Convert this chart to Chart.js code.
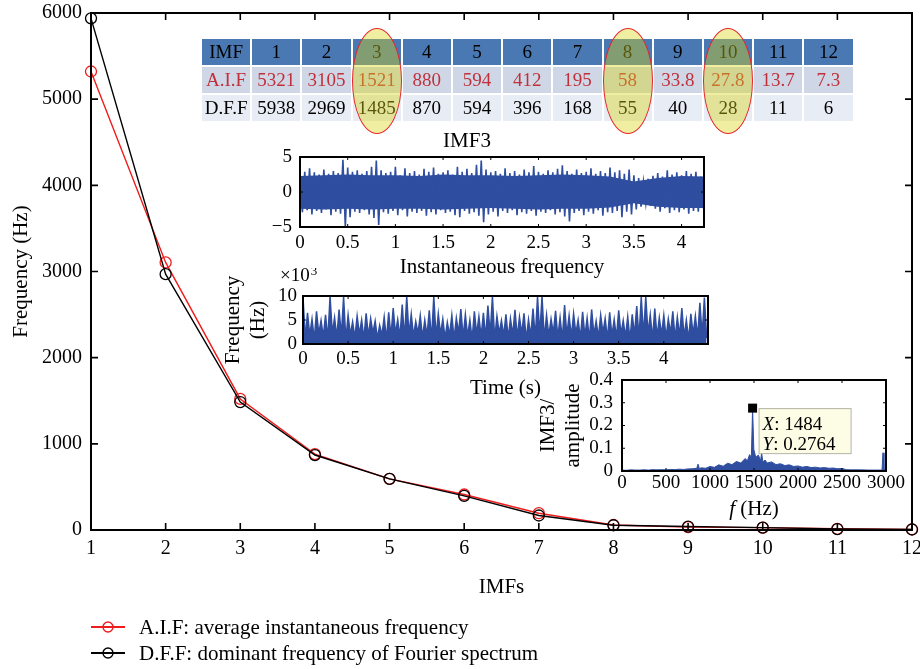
<!DOCTYPE html>
<html>
<head>
<meta charset="utf-8">
<script src="https://cdn.jsdelivr.net/npm/chart.js@4/dist/chart.umd.min.js"></script>
<style>
body{margin:0;background:#fff;}
#wrap{position:relative;width:920px;height:669px;overflow:hidden;font-family:"Liberation Serif","Times New Roman",serif;}
#wrap canvas{position:absolute;}
#tbl{position:absolute;left:200px;top:37px;border-collapse:separate;border-spacing:2px;table-layout:fixed;width:654.6px;font-size:19px;}
#tbl td{width:48.2px;height:26px;padding:0;line-height:26px;text-align:center;white-space:nowrap;}
#tbl tr.hdr td{background:#4a78b2;color:#000;}
#tbl tr.aif td{background:#cfd7e7;color:#c0303a;}
#tbl tr.dff td{background:#e8ecf4;color:#000;}
.ell{position:absolute;border:1.5px solid #e8242a;border-radius:50%;background:rgba(217,212,17,0.4);box-sizing:border-box;}
.leg{position:absolute;left:89px;height:26px;font-size:21px;line-height:26px;}
.leg svg{position:absolute;left:0;top:3px;}
.leg span{position:absolute;left:50px;top:0;white-space:nowrap;}
</style>
</head>
<body>
<div id="wrap">
  <canvas id="main" width="920" height="669" style="left:0;top:0"></canvas>
  <canvas id="imf3" width="490" height="152" style="left:230px;top:128px"></canvas>
  <canvas id="inst" width="505" height="133" style="left:215px;top:268px"></canvas>
  <canvas id="fft" width="380" height="160" style="left:530px;top:365px"></canvas>
  <table id="tbl"></table>
  <div id="legend"></div>
</div>
<script>
// main chart values
const imfIndex = [1, 2, 3, 4, 5, 6, 7, 8, 9, 10, 11, 12];
const aifValues = [5321, 3105, 1521, 880, 594, 412, 195, 58, 33.8, 27.8, 13.7, 7.3];
const dffValues = [5938, 2969, 1485, 870, 594, 396, 168, 55, 40, 28, 11, 6];
const highlighted = [3, 8, 10];
const legendNames = ["A.I.F: average instantaneous frequency", "D.F.F: dominant frequency of Fourier spectrum"];

// IMF3 signal envelope, sampled every 0.05 s
const imf3Step = 0.05;
const imf3Upper = [2.6, 2.9, 3.4, 2.8, 2.5, 3.2, 2.6, 3.0, 2.7, 4.6, 3.5, 2.9, 3.1, 2.6, 3.0, 3.6, 4.5, 3.1, 2.7, 2.9,
  3.6, 2.4, 3.4, 2.7, 3.0, 2.5, 3.3, 2.9, 3.5, 2.6, 2.8, 3.1, 2.5, 3.6, 2.9, 3.3, 2.7, 3.9, 4.5, 3.2,
  2.8, 3.0, 2.6, 3.4, 2.7, 3.0, 2.5, 3.2, 2.8, 3.7, 2.9, 2.6, 3.1, 2.8, 3.3, 3.8, 3.0, 2.6, 3.2, 2.7,
  2.9, 3.4, 2.6, 3.0, 2.7, 3.5, 2.8, 3.1, 2.6, 3.2, 2.4, 2.0, 1.5, 1.9, 2.3, 2.7, 2.2, 3.1, 2.5, 2.8,
  2.4, 3.0, 2.6, 2.9, 2.2];
const imf3Lower = [-2.9, -2.6, -3.2, -2.7, -3.0, -2.5, -3.3, -2.8, -3.1, -5.0, -3.6, -2.8, -3.0, -2.6, -3.2, -3.7, -4.7, -2.9, -3.1, -2.7,
  -3.3, -2.6, -3.5, -2.8, -3.0, -2.7, -3.4, -2.9, -3.2, -2.6, -3.0, -2.8, -3.3, -3.6, -2.7, -3.1, -2.9, -3.4, -4.3, -3.2,
  -2.8, -3.5, -2.7, -3.0, -2.6, -3.3, -2.9, -3.1, -2.7, -3.4, -2.8, -3.0, -2.6, -3.2, -2.9, -3.5, -4.2, -3.0, -2.7, -3.3,
  -2.8, -3.1, -2.6, -3.4, -2.9, -3.0, -2.7, -3.6, -2.8, -3.2, -2.5, -2.1, -1.6, -2.0, -2.4, -2.8, -2.3, -3.0, -2.6, -2.9,
  -2.5, -3.1, -2.7, -2.8, -2.3];
// solid core of the IMF3 band, every 0.25 s
const imf3CoreStep = 0.25;
const imf3CoreUpper = [2.3, 2.4, 2.5, 2.4, 2.4, 2.3, 2.5, 2.4, 2.4, 2.3, 2.4, 2.5, 2.4, 2.2, 1.5, 2.0, 2.3, 2.2];
const imf3CoreLower = [-2.4, -2.5, -2.4, -2.5, -2.4, -2.4, -2.5, -2.4, -2.3, -2.4, -2.5, -2.4, -2.4, -2.2, -1.6, -2.1, -2.3, -2.3];

// instantaneous frequency (x10^3 Hz), sampled every 0.05 s
const instStep = 0.05;
const instPeaks = [9.8, 6.5, 5.2, 6.8, 4.9, 6.1, 9.9, 5.5, 7.2, 9.8, 6.0, 4.6, 5.8, 5.0, 6.4, 5.3, 4.8, 3.9, 5.6, 6.6,
  7.5, 5.1, 8.2, 9.9, 6.2, 4.7, 5.9, 5.0, 7.0, 9.9, 6.3, 5.2, 4.5, 6.0, 5.4, 7.3, 6.1, 5.0, 6.8, 5.7,
  6.5, 8.0, 9.9, 5.8, 4.9, 6.2, 5.3, 7.1, 5.6, 6.4, 5.1, 7.4, 9.8, 9.9, 6.0, 5.2, 6.9, 5.5, 8.1, 5.9,
  6.3, 5.0, 6.7, 5.4, 7.2, 4.8, 6.0, 5.3, 6.6, 5.1, 7.0, 4.9, 5.7, 6.2, 7.9, 9.8, 9.9, 6.1, 7.4, 5.5,
  6.0, 5.2, 6.8, 5.6, 7.5, 5.0, 6.3, 5.8, 8.6, 9.7];
const instLows = [1.2, 1.8, 0.9, 2.1, 1.5, 1.0, 2.2, 1.4, 1.7, 0.8, 1.9, 1.3, 2.0, 1.1, 1.6, 2.3, 1.2, 1.8, 0.9, 1.5,
  2.1, 1.4, 1.0, 1.9, 1.6, 2.2, 1.3, 1.7, 0.8, 1.5, 2.0, 1.2, 1.8, 1.1, 2.3, 1.4, 1.6, 0.9, 2.0, 1.5,
  1.3, 1.9, 1.0, 2.2, 1.7, 1.2, 1.8, 1.4, 2.1, 0.9, 1.6, 1.3, 2.0, 1.1, 1.7, 2.2, 1.4, 1.0, 1.8, 1.5,
  2.1, 1.2, 1.6, 0.9, 1.9, 1.4, 2.3, 1.1, 1.7, 1.3, 2.0, 1.5, 0.8, 1.8, 1.2, 1.6, 2.1, 1.0, 1.4, 1.9,
  1.3, 2.2, 1.1, 1.7, 1.5, 0.9, 2.0, 1.4, 1.8, 1.2];

// Fourier spectrum of IMF3
const specFreq = [0, 50, 100, 150, 200, 250, 300, 350, 400, 450, 500, 550, 600, 650, 700, 750, 800, 850, 864, 880,
  900, 950, 1000, 1050, 1100, 1150, 1200, 1250, 1300, 1350, 1400, 1425, 1450, 1470, 1484, 1498, 1520, 1550, 1575, 1587,
  1600, 1625, 1650, 1700, 1750, 1800, 1850, 1900, 1950, 2000, 2050, 2100, 2150, 2200, 2250, 2300, 2350, 2400, 2450, 2500,
  2550, 2600, 2700, 2800, 2900, 2955, 2966, 2977, 3000];
const specAmp = [0.004, 0.003, 0.005, 0.004, 0.004, 0.005, 0.004, 0.006, 0.005, 0.006, 0.005, 0.007, 0.006, 0.008, 0.007, 0.009, 0.010, 0.012, 0.030, 0.010,
  0.014, 0.012, 0.020, 0.016, 0.027, 0.021, 0.034, 0.028, 0.042, 0.035, 0.055, 0.045, 0.072, 0.060, 0.2764, 0.095, 0.060, 0.070, 0.045, 0.080,
  0.040, 0.048, 0.035, 0.040, 0.028, 0.032, 0.024, 0.027, 0.020, 0.022, 0.017, 0.020, 0.015, 0.017, 0.013, 0.015, 0.012, 0.013, 0.010, 0.011,
  0.006, 0.005, 0.005, 0.004, 0.004, 0.004, 0.080, 0.004, 0.004];
const peakFreq = 1484;
const peakAmp = 0.2764;

const serif = '"Liberation Serif", "Times New Roman", serif';
const tickFont = {family: serif, size: 19};
const titleFont = {family: serif, size: 21, weight: "normal"};
const blue = "#2f4ea0";
const num = v => String(Math.round(v * 100) / 100).replace("-", "\u2212");

// box round the plot with inward tick marks
const frameTicks = {
  id: "frameTicks",
  afterDatasetsDraw(chart, args, opts) {
    const {ctx, chartArea: a} = chart;
    const x = chart.scales.x, y = chart.scales.y;
    const len = opts.len || 4;
    ctx.save();
    ctx.strokeStyle = "#000";
    ctx.lineWidth = opts.tickWidth || 1;
    ctx.beginPath();
    x.ticks.forEach(t => {
      const p = x.getPixelForValue(t.value);
      ctx.moveTo(p, a.bottom); ctx.lineTo(p, a.bottom - len);
      ctx.moveTo(p, a.top); ctx.lineTo(p, a.top + len);
    });
    y.ticks.forEach(t => {
      const p = y.getPixelForValue(t.value);
      ctx.moveTo(a.left, p); ctx.lineTo(a.left + len, p);
      ctx.moveTo(a.right, p); ctx.lineTo(a.right - len, p);
    });
    ctx.stroke();
    ctx.lineWidth = opts.width || 2;
    ctx.strokeRect(a.left, a.top, a.right - a.left, a.bottom - a.top);
    ctx.restore();
  }
};

// fixed axis box sizes, without the extra label overhang padding
function fixSize(prop, size){
  return function(s){
    s[prop] = size;
    s.paddingTop = 0; s.paddingBottom = 0; s.paddingLeft = 0; s.paddingRight = 0;
  };
}

function axis(min, max, step, pad, extra){
  return Object.assign({
    type: "linear", min: min, max: max,
    grid: {display: false, drawTicks: false},
    border: {display: false},
    ticks: {stepSize: step, padding: pad, color: "#000", font: tickFont, includeBounds: false, callback: num, maxRotation: 0, autoSkip: false}
  }, extra);
}

function baseOptions(padding){
  return {
    responsive: false, animation: false, events: [],
    layout: {padding: padding},
    plugins: {legend: {display: false}, tooltip: {enabled: false}},
    elements: {point: {radius: 0}, line: {tension: 0}}
  };
}

// ---- main chart ----
const mainOpts = baseOptions({left: 0, top: 13, right: 8, bottom: 0});
mainOpts.plugins.frameTicks = {len: 7, tickWidth: 1.6, width: 2};
mainOpts.scales = {
  x: axis(1, 12, 1, 7, {
    title: {display: true, text: "IMFs", color: "#000", font: titleFont, padding: {top: 0, bottom: 69}},
    afterFit: fixSize("height", 139)
  }),
  y: axis(0, 6000, 1000, 9, {
    title: {display: true, text: "Frequency (Hz)", color: "#000", font: titleFont, padding: {top: 9, bottom: 0}},
    afterFit: fixSize("width", 91)
  })
};
mainOpts.scales.x.ticks.font = {family: serif, size: 20};
mainOpts.scales.y.ticks.font = {family: serif, size: 20};

function series(values, color){
  return {
    data: imfIndex.map((v, i) => ({x: v, y: values[i]})),
    borderColor: color, borderWidth: 1.4,
    pointRadius: 5.5, pointBorderWidth: 1.3, pointBorderColor: color,
    pointBackgroundColor: "rgba(0,0,0,0)", clip: false
  };
}

new Chart(document.getElementById("main"), {
  type: "line",
  data: {datasets: [series(dffValues, "#000"), series(aifValues, "#f01c1c")]},
  options: mainOpts,
  plugins: [frameTicks]
});

// ---- IMF3 signal inset ----
const imf3Points = [];
imf3Upper.forEach((u, i) => {
  imf3Points.push({x: i * imf3Step, y: u});
  if (i < imf3Lower.length) imf3Points.push({x: i * imf3Step + imf3Step / 2, y: imf3Lower[i]});
});
const corePts = arr => arr.map((v, i) => ({x: i * imf3CoreStep, y: v}));
const imf3Opts = baseOptions({left: 0, top: 0, right: 16, bottom: 0});
imf3Opts.plugins.title = {display: true, text: "IMF3", color: "#000", font: titleFont, padding: {top: 1, bottom: 2.8}};
imf3Opts.plugins.frameTicks = {len: 3};
imf3Opts.scales = {
  x: axis(0, 4.235, 0.5, 5, {
    title: {display: true, text: "Instantaneous frequency", color: "#000", font: titleFont, padding: 0},
    afterFit: fixSize("height", 53)
  }),
  y: axis(-5, 5, 5, 8, {afterFit: fixSize("width", 70)})
};
new Chart(document.getElementById("imf3"), {
  type: "line",
  data: {datasets: [
    {data: imf3Points, borderColor: blue, borderWidth: 1.6, fill: "origin", backgroundColor: blue},
    {data: corePts(imf3CoreUpper), borderWidth: 0, fill: "+1", backgroundColor: blue},
    {data: corePts(imf3CoreLower), borderWidth: 0, fill: false}
  ]},
  options: imf3Opts,
  plugins: [frameTicks]
});

// ---- instantaneous frequency inset ----
const instPoints = [];
instPeaks.forEach((p, i) => {
  instPoints.push({x: i * instStep, y: p});
  if (i < instLows.length) instPoints.push({x: i * instStep + instStep / 2, y: instLows[i]});
});
const sciLabel = {
  id: "sciLabel",
  afterDraw(chart){
    const {ctx, chartArea: a} = chart;
    ctx.save();
    ctx.fillStyle = "#000";
    ctx.textAlign = "left";
    ctx.textBaseline = "alphabetic";
    ctx.font = "19px " + serif;
    ctx.fillText("\u00d710", a.left - 23, a.top - 15);
    const w = ctx.measureText("\u00d710").width;
    ctx.font = "13px " + serif;
    ctx.fillText("3", a.left - 23 + w + 1, a.top - 21);
    ctx.restore();
  }
};
const instOpts = baseOptions({left: 0, top: 28, right: 12, bottom: 0});
instOpts.plugins.frameTicks = {len: 3};
instOpts.scales = {
  x: axis(0, 4.49, 0.5, 4, {
    title: {display: true, text: "Time (s)", color: "#000", font: titleFont, padding: 0},
    afterFit: fixSize("height", 57)
  }),
  y: axis(0, 10, 5, 6, {
    title: {display: true, text: ["Frequency", "(Hz)"], color: "#000", font: titleFont, padding: {top: 5.4, bottom: 0}},
    afterFit: fixSize("width", 88)
  })
};
new Chart(document.getElementById("inst"), {
  type: "line",
  data: {datasets: [{data: instPoints, borderColor: blue, borderWidth: 1.5, fill: "origin", backgroundColor: blue}]},
  options: instOpts,
  plugins: [frameTicks, sciLabel]
});

// ---- Fourier spectrum inset ----
function mixedText(ctx, parts, x, y, size){
  parts.forEach(([txt, style]) => {
    ctx.font = (style ? style + " " : "") + size + "px " + serif;
    ctx.fillText(txt, x, y);
    x += ctx.measureText(txt).width;
  });
}
const fftExtras = {
  id: "fftExtras",
  afterDraw(chart){
    const {ctx, chartArea: a, scales: {x, y}} = chart;
    const px = x.getPixelForValue(peakFreq), py = y.getPixelForValue(peakAmp);
    ctx.save();
    ctx.fillStyle = "#000";
    ctx.fillRect(px - 4.5, py - 4.5, 9, 9);
    const bx = px + 6, by = py, bw = 92, bh = 45;
    ctx.fillStyle = "#fdfde6";
    ctx.fillRect(bx, by, bw, bh);
    ctx.strokeStyle = "#b4b4a8";
    ctx.lineWidth = 1;
    ctx.strokeRect(bx + 0.5, by + 0.5, bw, bh);
    ctx.fillStyle = "#000";
    ctx.textAlign = "left";
    ctx.textBaseline = "alphabetic";
    mixedText(ctx, [["X", "italic"], [": " + peakFreq, ""]], bx + 4, by + 22, 19);
    mixedText(ctx, [["Y", "italic"], [": " + peakAmp, ""]], bx + 4, by + 42, 19);
    // axis title with italic f
    ctx.font = "italic 21px " + serif;
    const w1 = ctx.measureText("f").width;
    ctx.font = "21px " + serif;
    const w2 = ctx.measureText(" (Hz)").width;
    const sx = (a.left + a.right) / 2 - (w1 + w2) / 2;
    mixedText(ctx, [["f", "italic"], [" (Hz)", ""]], sx, chart.height - 10, 21);
    ctx.restore();
  }
};
const fftOpts = baseOptions({left: 0, top: 15, right: 24, bottom: 0});
fftOpts.plugins.frameTicks = {len: 3};
fftOpts.scales = {
  x: axis(0, 3000, 500, 1, {afterFit: fixSize("height", 54)}),
  y: axis(0, 0.4, 0.1, 9, {
    title: {display: true, text: ["IMF3/", "amplitude"], color: "#000", font: titleFont, padding: {top: 5.4, bottom: 0}},
    afterFit: fixSize("width", 92)
  })
};
new Chart(document.getElementById("fft"), {
  type: "line",
  data: {datasets: [{data: specFreq.map((f, i) => ({x: f, y: specAmp[i]})), borderColor: blue, borderWidth: 1, fill: "origin", backgroundColor: blue}]},
  options: fftOpts,
  plugins: [frameTicks, fftExtras]
});

// ---- table with highlighted columns ----
const tbl = document.getElementById("tbl");
const tableRows = [["IMF", imfIndex, "hdr"], ["A.I.F", aifValues, "aif"], ["D.F.F", dffValues, "dff"]];
tbl.innerHTML = tableRows.map(([name, vals, cls]) =>
  `<tr class="${cls}"><td>${name}</td>${vals.map(v => `<td>${v}</td>`).join("")}</tr>`).join("");
const wrap = document.getElementById("wrap");
highlighted.forEach(h => {
  const cell = tbl.rows[0].cells[h];
  const e = document.createElement("div");
  e.className = "ell";
  e.style.left = (tbl.offsetLeft + cell.offsetLeft - 1) + "px";
  e.style.width = (cell.offsetWidth + 2) + "px";
  e.style.top = "28px";
  e.style.height = "106px";
  wrap.appendChild(e);
});

// ---- legend ----
const legendColors = ["#f01c1c", "#000"];
document.getElementById("legend").innerHTML = legendNames.map((name, i) =>
  `<div class="leg" style="top:${614 + i * 26}px">
     <svg width="40" height="20"><line x1="2" y1="10" x2="36" y2="10" stroke="${legendColors[i]}" stroke-width="2"/>
     <circle cx="19" cy="10" r="5" fill="none" stroke="${legendColors[i]}" stroke-width="1.4"/></svg>
     <span>${name}</span></div>`).join("");
</script>
</body>
</html>
